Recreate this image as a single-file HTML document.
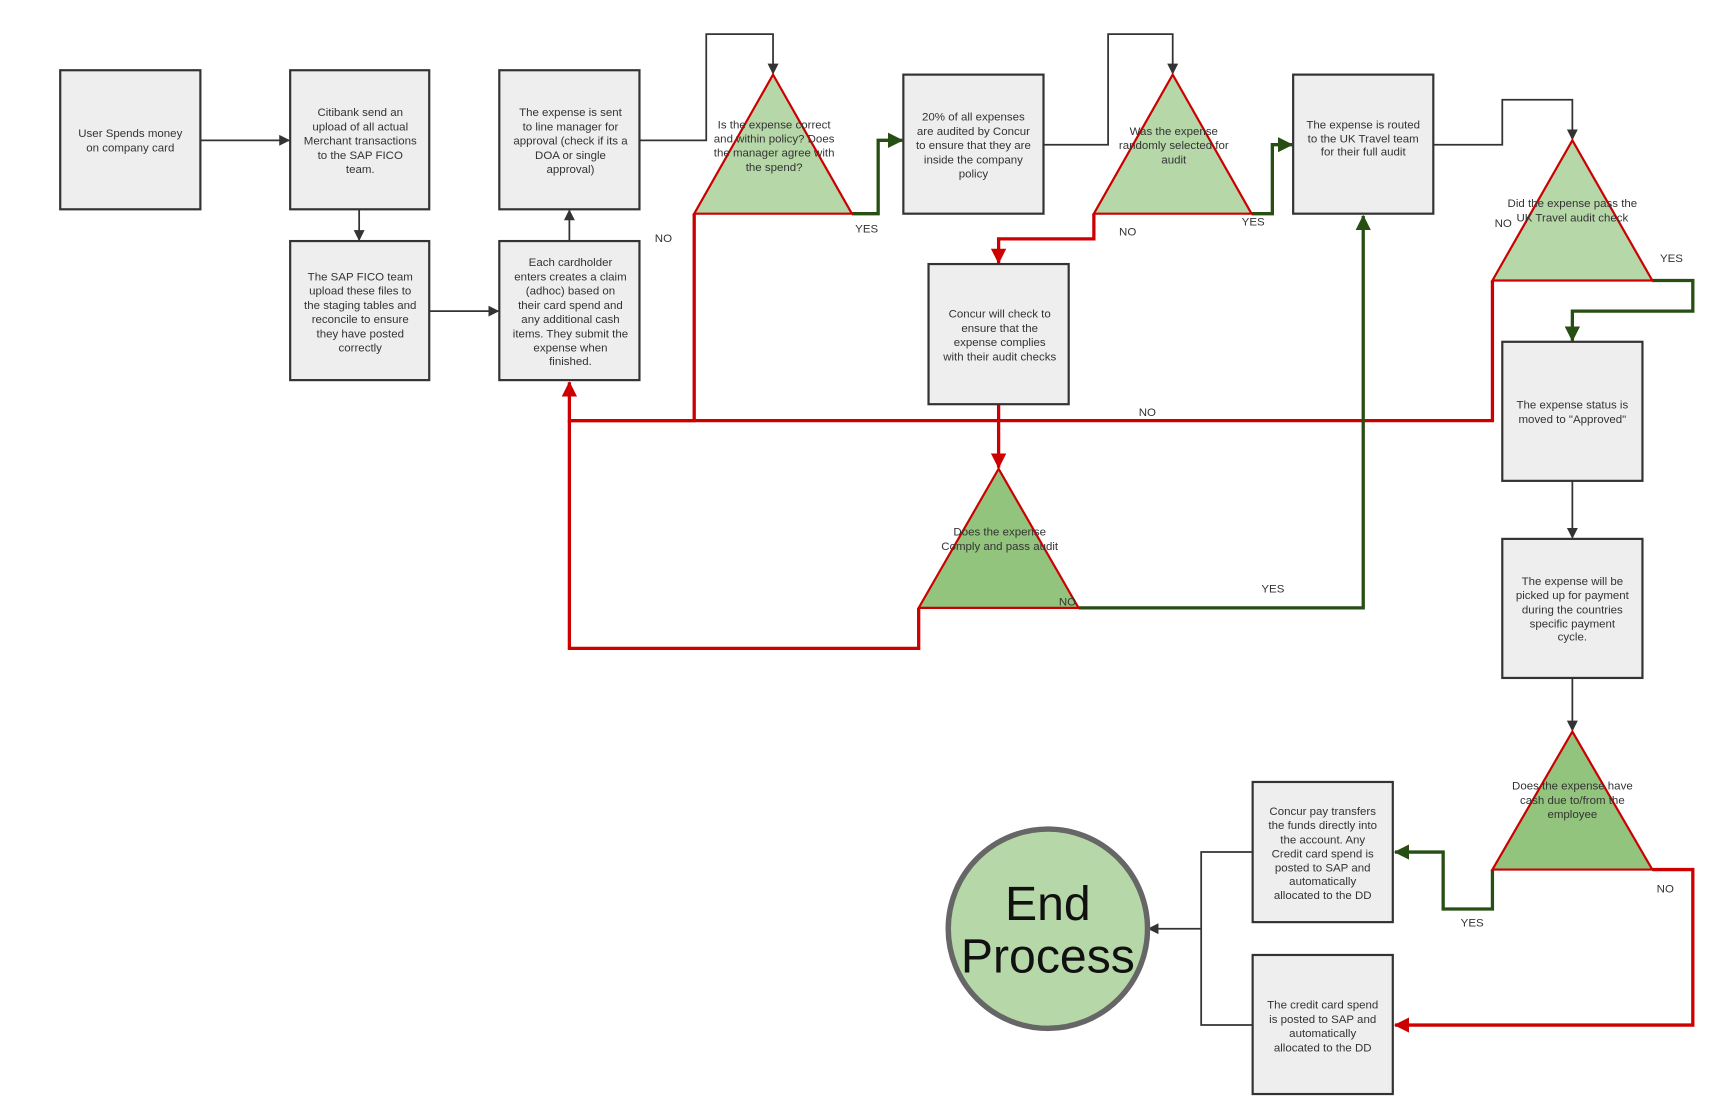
<!DOCTYPE html>
<html><head><style>
html,body{margin:0;padding:0;background:#fff;}
svg{display:block;}
text{font-family:"Liberation Sans",Arial,sans-serif;fill:#333;}
.b{fill:#eeeeee;stroke:#333;stroke-width:2;}
.t{font-size:10.5px;text-anchor:middle;}
.l{font-size:10.5px;}
.k{fill:none;stroke:#333;stroke-width:1.6;}
.r{fill:none;stroke:#cc0000;stroke-width:3;}
.g{fill:none;stroke:#274e13;stroke-width:3;}
</style></head><body>
<svg width="1718" height="1115" viewBox="0 0 1569 1018" xmlns="http://www.w3.org/2000/svg">
<defs>
<marker id="ak" markerWidth="10" markerHeight="10" refX="9" refY="5" orient="auto" markerUnits="userSpaceOnUse"><path d="M0,0 L10,5 L0,10z" fill="#333"/></marker>
<marker id="ar" markerWidth="14" markerHeight="14" refX="13" refY="7" orient="auto" markerUnits="userSpaceOnUse"><path d="M0,0 L14,7 L0,14z" fill="#cc0000"/></marker>
<marker id="ag" markerWidth="14" markerHeight="14" refX="13" refY="7" orient="auto" markerUnits="userSpaceOnUse"><path d="M0,0 L14,7 L0,14z" fill="#274e13"/></marker>
</defs>

<path class="k" d="M183,128 H264" marker-end="url(#ak)"/>
<path class="k" d="M328,191 V219" marker-end="url(#ak)"/>
<path class="k" d="M392,284 H455" marker-end="url(#ak)"/>
<path class="k" d="M520,220 V192" marker-end="url(#ak)"/>
<path class="k" d="M584,128 H645 V31 H706 V67" marker-end="url(#ak)"/>
<path class="k" d="M953,132 H1012 V31 H1071 V67" marker-end="url(#ak)"/>
<path class="k" d="M1309,132 H1372 V91 H1436 V127" marker-end="url(#ak)"/>
<path class="k" d="M1436,439 V491" marker-end="url(#ak)"/>
<path class="k" d="M1436,619 V667" marker-end="url(#ak)"/>
<path class="k" d="M1144,778 H1097 V936 H1144 M1097,848 H1049" marker-end="url(#ak)"/>

<path class="r" d="M634,195 V384 H520"/>
<path class="r" d="M1363,256 V384 H520 V349" marker-end="url(#ar)"/>
<path class="r" d="M839,555 V592 H520 V384"/>
<path class="r" d="M999,195 V218 H912 V240" marker-end="url(#ar)"/>
<path class="r" d="M912,369 V427" marker-end="url(#ar)"/>
<path class="r" d="M1509,794 H1546 V936 H1274" marker-end="url(#ar)"/>

<path class="g" d="M778,195 H802 V128 H824" marker-end="url(#ag)"/>
<path class="g" d="M1143,195 H1162 V132 H1180" marker-end="url(#ag)"/>
<path class="g" d="M1509,256 H1546 V284 H1436 V311" marker-end="url(#ag)"/>
<path class="g" d="M985,555 H1245 V197" marker-end="url(#ag)"/>
<path class="g" d="M1363,794 V830 H1318 V778 H1274" marker-end="url(#ag)"/>

<rect class="b" x="55" y="64" width="128" height="127"/>
<rect class="b" x="265" y="64" width="127" height="127"/>
<rect class="b" x="265" y="220" width="127" height="127"/>
<rect class="b" x="456" y="64" width="128" height="127"/>
<rect class="b" x="456" y="220" width="128" height="127"/>
<rect class="b" x="825" y="68" width="128" height="127"/>
<rect class="b" x="848" y="241" width="128" height="128"/>
<rect class="b" x="1181" y="68" width="128" height="127"/>
<rect class="b" x="1372" y="312" width="128" height="127"/>
<rect class="b" x="1372" y="492" width="128" height="127"/>
<rect class="b" x="1144" y="714" width="128" height="128"/>
<rect class="b" x="1144" y="872" width="128" height="127"/>

<polygon points="706,68 778,195 634,195" fill="#b6d7a8" stroke="#cc0000" stroke-width="2"/>
<polygon points="1071,68 1143,195 999,195" fill="#b6d7a8" stroke="#cc0000" stroke-width="2"/>
<polygon points="1436,128 1509,256 1363,256" fill="#b6d7a8" stroke="#cc0000" stroke-width="2"/>
<polygon points="912,428 985,555 839,555" fill="#93c47d" stroke="#cc0000" stroke-width="2"/>
<polygon points="1436,668 1509,794 1363,794" fill="#93c47d" stroke="#cc0000" stroke-width="2"/>

<circle cx="957" cy="848" r="91" fill="#b6d7a8" stroke="#666" stroke-width="5"/>
<text x="957" y="840" style="font-size:44px;text-anchor:middle;fill:#111">End</text>
<text x="957" y="888" style="font-size:44px;text-anchor:middle;fill:#111">Process</text>

<text class="t"><tspan x="119" y="125">User Spends money</tspan><tspan x="119" y="138">on company card</tspan></text>
<text class="t"><tspan x="329" y="106">Citibank send an</tspan><tspan x="329" y="119">upload of all actual</tspan><tspan x="329" y="132">Merchant transactions</tspan><tspan x="329" y="145">to the SAP FICO</tspan><tspan x="329" y="158">team.</tspan></text>
<text class="t"><tspan x="329" y="256">The SAP FICO team</tspan><tspan x="329" y="269">upload these files to</tspan><tspan x="329" y="282">the staging tables and</tspan><tspan x="329" y="295">reconcile to ensure</tspan><tspan x="329" y="308">they have posted</tspan><tspan x="329" y="321">correctly</tspan></text>
<text class="t"><tspan x="521" y="106">The expense is sent</tspan><tspan x="521" y="119">to line manager for</tspan><tspan x="521" y="132">approval (check if its a</tspan><tspan x="521" y="145">DOA or single</tspan><tspan x="521" y="158">approval)</tspan></text>
<text class="t"><tspan x="521" y="243">Each cardholder</tspan><tspan x="521" y="256">enters creates a claim</tspan><tspan x="521" y="269">(adhoc) based on</tspan><tspan x="521" y="282">their card spend and</tspan><tspan x="521" y="295">any additional cash</tspan><tspan x="521" y="308">items. They submit the</tspan><tspan x="521" y="321">expense when</tspan><tspan x="521" y="333">finished.</tspan></text>
<text class="t"><tspan x="889" y="110">20% of all expenses</tspan><tspan x="889" y="123">are audited by Concur</tspan><tspan x="889" y="136">to ensure that they are</tspan><tspan x="889" y="149">inside the company</tspan><tspan x="889" y="162">policy</tspan></text>
<text class="t"><tspan x="913" y="290">Concur will check to</tspan><tspan x="913" y="303">ensure that the</tspan><tspan x="913" y="316">expense complies</tspan><tspan x="913" y="329">with their audit checks</tspan></text>
<text class="t"><tspan x="1245" y="117">The expense is routed</tspan><tspan x="1245" y="130">to the UK Travel team</tspan><tspan x="1245" y="142">for their full audit</tspan></text>
<text class="t"><tspan x="1436" y="373">The expense status is</tspan><tspan x="1436" y="386">moved to "Approved"</tspan></text>
<text class="t"><tspan x="1436" y="534">The expense will be</tspan><tspan x="1436" y="547">picked up for payment</tspan><tspan x="1436" y="560">during the countries</tspan><tspan x="1436" y="573">specific payment</tspan><tspan x="1436" y="585">cycle.</tspan></text>
<text class="t"><tspan x="1208" y="744">Concur pay transfers</tspan><tspan x="1208" y="757">the funds directly into</tspan><tspan x="1208" y="770">the account. Any</tspan><tspan x="1208" y="783">Credit card spend is</tspan><tspan x="1208" y="796">posted to SAP and</tspan><tspan x="1208" y="808">automatically</tspan><tspan x="1208" y="821">allocated to the DD</tspan></text>
<text class="t"><tspan x="1208" y="921">The credit card spend</tspan><tspan x="1208" y="934">is posted to SAP and</tspan><tspan x="1208" y="947">automatically</tspan><tspan x="1208" y="960">allocated to the DD</tspan></text>

<text class="t"><tspan x="707" y="117">Is the expense correct</tspan><tspan x="707" y="130">and within policy? Does</tspan><tspan x="707" y="143">the manager agree with</tspan><tspan x="707" y="156">the spend?</tspan></text>
<text class="t"><tspan x="1072" y="123">Was the expense</tspan><tspan x="1072" y="136">randomly selected for</tspan><tspan x="1072" y="149">audit</tspan></text>
<text class="t"><tspan x="1436" y="189">Did the expense pass the</tspan><tspan x="1436" y="202">UK Travel audit check</tspan></text>
<text class="t"><tspan x="913" y="489">Does the expense</tspan><tspan x="913" y="502">Comply and pass audit</tspan></text>
<text class="t"><tspan x="1436" y="721">Does the expense have</tspan><tspan x="1436" y="734">cash due to/from the</tspan><tspan x="1436" y="747">employee</tspan></text>

<text class="l" x="598" y="221">NO</text>
<text class="l" x="781" y="212">YES</text>
<text class="l" x="1022" y="215">NO</text>
<text class="l" x="1134" y="206">YES</text>
<text class="l" x="1365" y="207">NO</text>
<text class="l" x="1516" y="239">YES</text>
<text class="l" x="1040" y="380">NO</text>
<text class="l" x="967" y="553">NO</text>
<text class="l" x="1152" y="541">YES</text>
<text class="l" x="1513" y="815">NO</text>
<text class="l" x="1334" y="846">YES</text>
</svg>
</body></html>
